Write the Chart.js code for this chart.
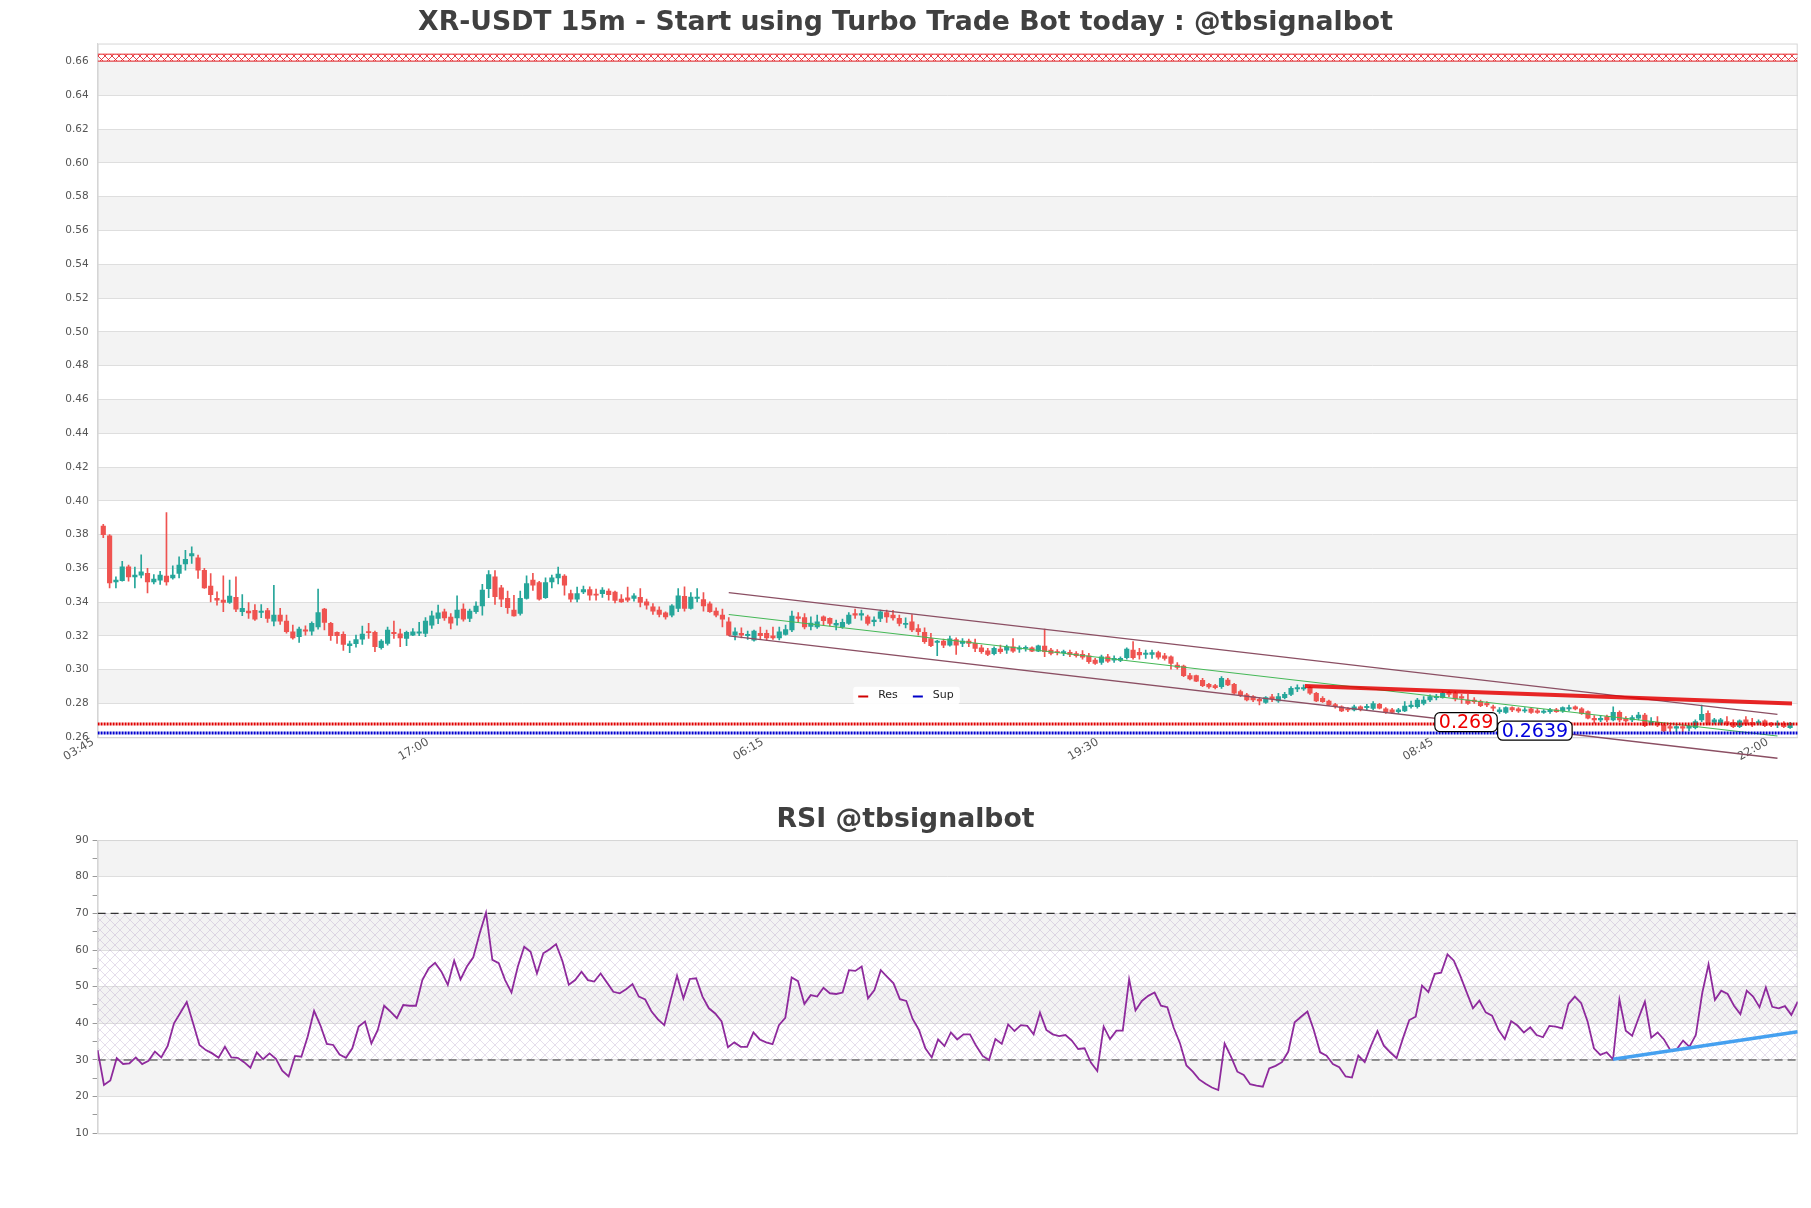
<!DOCTYPE html>
<html lang="en">
<head>
<meta charset="UTF-8">
<title>XR-USDT 15m</title>
<script src="https://cdn.jsdelivr.net/npm/chart.js"></script>
<style>
  body { margin: 0; background: #fff; }
  #wrap { position: relative; width: 1811px; height: 1208px; }
  #priceChart { position: absolute; left: 0; top: 0; }
  #rsiChart { position: absolute; left: 0; top: 790px; }
</style>
</head>
<body>
<div id="wrap">
  <canvas id="priceChart" width="1811" height="800"></canvas>
  <canvas id="rsiChart" width="1811" height="418"></canvas>
</div>
<script>
// ---- data ----
const xTickIdx = [0, 53, 106, 159, 212, 265];
const xTickLabels = ['03:45', '17:00', '06:15', '19:30', '08:45', '22:00'];
const priceTicks = [0.26, 0.28, 0.30, 0.32, 0.34, 0.36, 0.38, 0.40, 0.42, 0.44, 0.46, 0.48, 0.50, 0.52, 0.54, 0.56, 0.58, 0.60, 0.62, 0.64, 0.66];
const rsiTicks = [10, 15, 20, 25, 30, 35, 40, 45, 50, 55, 60, 65, 70, 75, 80, 85, 90];

const open = [
  .385, .3792, .352, .3527, .3609, .355, .356, .357, .352, .353,
  .3554, .3544, .357, .3627, .3674, .3662, .3589, .3495, .3422, .3412,
  .3398, .3428, .3343, .3347, .3351, .3339, .335, .3288, .3323, .3288,
  .3225, .3195, .3235, .3229, .3254, .3359, .3274, .3221, .3209, .3142,
  .3154, .3181, .3225, .3221, .313, .3156, .3221, .3213, .3185, .3205,
  .3217, .3215, .3264, .3304, .3343, .3311, .3307, .3359, .3304, .3343,
  .3378, .348, .355, .3485, .3422, .3353, .3333, .3422, .353, .3516,
  .3426, .352, .3544, .3554, .3451, .3418, .3461, .3475, .3447, .3451,
  .3465, .3459, .3418, .3426, .3422, .3428, .3402, .3372, .3353, .3337,
  .3323, .3363, .3435, .3363, .3422, .3416, .339, .3347, .3323, .3284,
  .3205, .3215, .3201, .3175, .3215, .3215, .3201, .3189, .3209, .3235,
  .3313, .3309, .3256, .3254, .3313, .3304, .3264, .3254, .3274, .3333,
  .3323, .3313, .3284, .3304, .3339, .3323, .3304, .3268, .3284, .3244,
  .3221, .3185, .3162, .317, .3146, .3179, .3156, .317, .3156, .313,
  .3112, .3095, .3122, .3116, .3136, .3122, .3126, .313, .311, .314,
  .3116, .3107, .3101, .3103, .3095, .3091, .3083, .3057, .3043, .3077,
  .3057, .3055, .3071, .3116, .3103, .3091, .3091, .3101, .3083, .3077,
  .3028, .3022, .2965, .2965, .2937, .2914, .2906, .29, .2939, .2914,
  .287, .2851, .2841, .2825, .2807, .2839, .2815, .2835, .2854, .2886,
  .2886, .2894, .2861, .2831, .2815, .2793, .2781, .2768, .2762, .2781,
  .2776, .2771, .2795, .2768, .2762, .2752, .2756, .2781, .2781, .2801,
  .2821, .2835, .2835, .2866, .2861, .2841, .2821, .2821, .2811, .2801,
  .2781, .2752, .2748, .2776, .2768, .2756, .2768, .2756, .2748, .2752,
  .2762, .2756, .2768, .2781, .2768, .2752, .2713, .2703, .2723, .2703,
  .2748, .2713, .2703, .2713, .2732, .2683, .2689, .2673, .2663, .2654,
  .2663, .2654, .2657, .2703, .2742, .2689, .2683, .2693, .2689, .2663,
  .2703, .2689, .2683, .2697, .2683, .2673, .2683, .2657
];
const high = [
  .3861, .38, .355, .3642, .3619, .3607, .368, .36, .3564, .3583,
  .393, .3615, .3668, .3707, .3727, .3678, .36, .3569, .3461, .3556,
  .353, .355, .3445, .3398, .3386, .3386, .3363, .35, .3363, .3323,
  .3264, .3252, .326, .3284, .3477, .3363, .328, .3225, .3225, .317,
  .3205, .3258, .3274, .3229, .3179, .3252, .3288, .3241, .3229, .3244,
  .328, .3308, .3347, .3382, .3359, .3333, .3437, .339, .3359, .3402,
  .3506, .3587, .3587, .35, .3465, .3441, .3465, .3556, .357, .3524,
  .3544, .356, .3607, .3564, .3471, .3489, .3495, .3491, .3477, .3487,
  .3479, .3465, .3445, .349, .3451, .348, .3418, .3392, .3372, .3343,
  .3386, .348, .3491, .3457, .348, .3457, .3402, .3367, .3359, .3308,
  .3248, .3248, .3229, .3235, .3252, .3235, .3252, .3252, .3264, .3347,
  .3339, .3333, .3313, .3323, .3319, .3307, .3294, .33, .3339, .3359,
  .3353, .3323, .3313, .3353, .3353, .3351, .3323, .3307, .3327, .3268,
  .3248, .3215, .3174, .3181, .3199, .3189, .3185, .3181, .3181, .3146,
  .3126, .3136, .3146, .3146, .3185, .3142, .3142, .3136, .3146, .3241,
  .3126, .312, .3116, .3116, .3107, .3114, .3097, .3067, .3087, .3091,
  .3083, .3077, .313, .3166, .3126, .3116, .3116, .311, .3097, .3083,
  .3043, .3028, .2978, .2969, .2949, .292, .2914, .2959, .2949, .292,
  .288, .286, .2847, .2835, .2841, .2854, .286, .2866, .29, .291,
  .291, .29, .2866, .2841, .2821, .2801, .2787, .2776, .2791, .2787,
  .2795, .2811, .2801, .2776, .2772, .2772, .2811, .2815, .2831, .2841,
  .2851, .2854, .287, .2874, .287, .2854, .2854, .2835, .2821, .2811,
  .2791, .2776, .2781, .2781, .2776, .2776, .2776, .2772, .2764, .2772,
  .2772, .2781, .2791, .2787, .2776, .2756, .2728, .2728, .2732, .2781,
  .2756, .2723, .2728, .2748, .2742, .2717, .2723, .2683, .2673, .2669,
  .2669, .2673, .2703, .2791, .2756, .2713, .2713, .2723, .2703, .2703,
  .2723, .2713, .2703, .2703, .2689, .2697, .2693, .2689
];
const low = [
  .3782, .3484, .3484, .3524, .3524, .3484, .3544, .3455, .3508, .3505,
  .35, .3536, .3544, .3589, .3629, .354, .3481, .3402, .3382, .3343,
  .3392, .3343, .332, .3304, .3292, .3308, .328, .326, .3268, .3217,
  .3181, .3162, .3205, .3205, .324, .3235, .3174, .3156, .3114, .3101,
  .3134, .315, .3185, .3107, .3122, .3146, .3185, .3136, .3142, .3201,
  .3201, .3195, .3244, .3272, .3292, .3241, .3264, .3288, .3284, .3333,
  .3323, .3426, .3386, .3373, .3333, .3317, .3323, .3418, .347, .3412,
  .3422, .3485, .3508, .3442, .3402, .3402, .3451, .3412, .3412, .3428,
  .3412, .3396, .3398, .3402, .3406, .3372, .3359, .3327, .3313, .33,
  .3313, .3343, .3347, .3359, .3402, .3347, .3339, .3313, .3254, .3201,
  .3176, .3189, .3179, .3169, .3181, .3176, .3179, .3176, .3205, .3225,
  .328, .3241, .3235, .3244, .3264, .326, .3235, .3245, .3268, .3304,
  .3294, .3264, .326, .3284, .328, .3294, .326, .3248, .3225, .3205,
  .3156, .3136, .3083, .313, .314, .3091, .3136, .3136, .3107, .3097,
  .3083, .3087, .3097, .3097, .3103, .3103, .311, .3107, .3107, .3077,
  .3087, .3087, .3083, .3077, .3075, .3063, .3038, .3032, .3032, .3043,
  .3043, .3047, .3063, .3063, .3063, .3067, .3067, .3063, .3057, .3004,
  .3004, .2959, .2939, .2929, .29, .289, .2886, .289, .2906, .2854,
  .284, .2815, .2811, .2791, .2801, .2811, .2807, .2827, .2846, .287,
  .2878, .2854, .2811, .2807, .2787, .2772, .2752, .2752, .2756, .2756,
  .2762, .2762, .2768, .2742, .274, .2742, .2752, .2772, .2772, .2791,
  .2811, .2821, .2831, .2841, .2815, .2801, .2795, .2801, .2781, .2781,
  .2756, .2742, .2742, .2752, .2748, .2748, .2742, .2742, .2742, .2742,
  .2748, .2748, .2756, .2762, .2736, .2709, .2683, .2693, .2693, .2697,
  .2693, .2689, .2693, .2703, .2663, .2673, .2663, .2634, .2634, .2634,
  .2634, .2638, .2649, .2693, .2673, .2677, .2673, .2669, .2657, .2657,
  .2669, .2663, .2673, .2663, .2663, .2657, .2657, .2653
];
const close = [
  .38, .3514, .353, .3609, .355, .356, .358, .352, .3536, .356,
  .352, .356, .3619, .3654, .3688, .3589, .3485, .3445, .3412, .3398,
  .3436, .3359, .3363, .3337, .33, .3347, .3304, .3323, .3288, .3225,
  .3189, .324, .3229, .3274, .3339, .328, .3201, .3201, .315, .3154,
  .3178, .3211, .3219, .3136, .317, .3235, .3213, .3189, .3221, .3225,
  .3225, .3288, .3319, .3337, .3307, .3276, .3353, .33, .3347, .3377,
  .3471, .3564, .3432, .3418, .3367, .3319, .3422, .351, .35, .3418,
  .3516, .3544, .3566, .35, .3418, .3451, .3475, .3441, .3441, .3471,
  .3444, .341, .3402, .3412, .3437, .3398, .3382, .3347, .3327, .3313,
  .3378, .3437, .3363, .343, .343, .3378, .3343, .3323, .33, .3205,
  .3225, .3205, .3209, .3229, .3201, .3189, .3189, .3225, .3238, .3317,
  .3304, .3254, .3276, .3284, .329, .3274, .3274, .328, .3323, .3323,
  .3333, .3274, .3294, .3343, .3313, .3307, .3274, .3274, .3235, .3225,
  .3166, .3142, .317, .3146, .3183, .3146, .317, .3156, .3126, .3107,
  .3091, .3126, .3107, .3136, .311, .3126, .313, .311, .3142, .3107,
  .3097, .3101, .3107, .3091, .3083, .3075, .3047, .3038, .3077, .3051,
  .3067, .3067, .3122, .3071, .3087, .3097, .3101, .3075, .3067, .3038,
  .3014, .2965, .2945, .2933, .2906, .2898, .2894, .2949, .291, .2861,
  .285, .2821, .2821, .2815, .2835, .2827, .2841, .2854, .289, .2894,
  .2894, .2861, .2815, .2811, .2791, .2781, .2756, .2762, .2781, .2768,
  .2781, .28, .2772, .2752, .2748, .2762, .2785, .2791, .2821, .2821,
  .2841, .2841, .2861, .2854, .2827, .2831, .2801, .2811, .2787, .2791,
  .2772, .2762, .2776, .2762, .2756, .2762, .2748, .2748, .2752, .2762,
  .2752, .2776, .2776, .2768, .2742, .2713, .2703, .2713, .2703, .2748,
  .2703, .2697, .2717, .2732, .2669, .2693, .2673, .2638, .2654, .2663,
  .2654, .2665, .2693, .2736, .2683, .2703, .2703, .2677, .2663, .2697,
  .2677, .2673, .2693, .2669, .2673, .2683, .2663, .2683
];
const rsi = [
  32.7, 23.2, 24.4, 30.5, 28.9, 29.1, 30.7, 28.9, 29.8, 32.3,
  30.7, 33.8, 40.0, 42.9, 45.8, 40.0, 34.1, 32.7, 31.8, 30.6,
  33.6, 30.7, 30.6, 29.4, 27.9, 32.1, 30.2, 31.8, 30.3, 27.1,
  25.5, 31.1, 30.9, 36.4, 43.4, 39.4, 34.4, 34.1, 31.5, 30.6,
  33.2, 39.1, 40.5, 34.5, 38.2, 44.8, 43.2, 41.4, 45.0, 44.8,
  44.8, 51.8, 55.0, 56.5, 54.1, 50.5, 57.1, 52.0, 55.5, 58.0,
  64.5, 70.2, 57.3, 56.4, 51.8, 48.4, 55.5, 60.9, 59.5, 53.6,
  59.1, 60.2, 61.6, 57.0, 50.5, 51.8, 54.1, 51.8, 51.4, 53.6,
  51.1, 48.6, 48.2, 49.3, 50.7, 47.3, 46.5, 43.2, 41.1, 39.5,
  46.4, 53.0, 46.8, 52.1, 52.3, 47.3, 44.1, 42.7, 40.5, 33.5,
  34.8, 33.6, 33.6, 37.5, 35.6, 34.8, 34.3, 39.5, 41.5, 52.5,
  51.5, 45.3, 47.7, 47.3, 49.7, 48.2, 48.0, 48.4, 54.5, 54.3,
  55.5, 46.8, 49.1, 54.5, 52.7, 50.9, 46.6, 46.1, 41.2, 38.2,
  33.2, 30.7, 35.6, 33.8, 37.5, 35.6, 37.0, 37.0, 33.8, 31.1,
  30.0, 35.7, 34.4, 39.7, 37.9, 39.5, 39.3, 37.0, 42.9, 38.2,
  37.0, 36.5, 36.8, 35.3, 33.0, 33.2, 29.3, 27.0, 39.1, 35.7,
  38.0, 38.0, 52.0, 43.5, 46.1, 47.5, 48.4, 44.8, 44.4, 38.8,
  34.5, 28.5, 26.8, 24.7, 23.5, 22.5, 21.8, 34.5, 30.9, 26.8,
  25.9, 23.4, 23.0, 22.7, 27.7, 28.4, 29.4, 32.3, 40.3, 41.8,
  43.2, 38.2, 32.1, 31.2, 28.9, 28.0, 25.5, 25.2, 31.2, 29.4,
  33.9, 37.9, 33.9, 32.1, 30.5, 35.9, 40.9, 41.8, 50.3, 48.5,
  53.5, 53.8, 58.8, 57.1, 53.0, 48.5, 44.1, 46.2, 43.0, 42.1,
  38.2, 35.7, 40.6, 39.4, 37.5, 38.9, 36.8, 36.2, 39.3, 39.1,
  38.6, 45.3, 47.3, 45.5, 40.5, 33.2, 31.4, 32.1, 30.2, 46.5,
  38.0, 36.6, 41.4, 45.9, 36.1, 37.5, 35.6, 32.7, 32.9, 35.3,
  33.6, 36.8, 48.2, 56.1, 46.4, 48.9, 48.0, 44.8, 42.5, 48.9,
  47.3, 44.4, 49.8, 44.5, 44.1, 44.7, 42.3, 45.9
];

// levels and trend lines, [index, value]
const topBand = [0.6603, 0.6644];
const resLevel = 0.2679;
const supLevel = 0.2626;
const channelX = [99, 265];
const channelUpper = [0.3457, 0.2736];
const channelMid = [0.3327, 0.2608];
const channelLower = [0.3201, 0.2476];
const resTrendX = [190.2, 267.3];
const resTrendY = [0.2904, 0.2800];
const rsiTrendX = [238, 267];
const rsiTrendY = [30.2, 37.7];
const priceLabels = [
  { x: 215.7, y: 0.269, text: '0.269', color: '#ee0000' },
  { x: 226.6, y: 0.2639, text: '0.2639', color: '#0000dd' }
];

// ---- helpers ----
const xMin = -0.9, xMax = 268.2;
const idx = open.map((_, i) => i);
const candleColor = idx.map(i => close[i] >= open[i] ? '#26a69a' : '#ef5350');
const pts = (xs, ys) => xs.map((x, i) => ({ x: x, y: ys[i] }));
const flat = v => [{ x: xMin, y: v }, { x: xMax, y: v }];
const tickFont = { family: 'DejaVu Sans', size: 10.5 };
const xTickFont = { family: 'DejaVu Sans', size: 11.5 };
const titleFont = { family: 'DejaVu Sans', size: 26.7, weight: 'bold' };
const gridColor = '#dedede';
const frameColor = '#d6d6d6';
const bandColor = '#f3f3f3';
const sidePad = 13.3;

function hatch(color, size, width, bg) {
  const c = document.createElement('canvas');
  c.width = size; c.height = size;
  const g = c.getContext('2d');
  if (bg) { g.fillStyle = bg; g.fillRect(0, 0, size, size); }
  g.strokeStyle = color; g.lineWidth = width;
  g.beginPath();
  g.moveTo(0, 0); g.lineTo(size, size);
  g.moveTo(size, 0); g.lineTo(0, size);
  g.stroke();
  return g.createPattern(c, 'repeat');
}

// alternate grey bands between tick pairs + a light frame
const bandsPlugin = {
  id: 'bands',
  beforeDraw(chart, args, o) {
    const { ctx, chartArea: a } = chart;
    const y = chart.scales.y;
    ctx.save();
    ctx.fillStyle = o.color;
    o.ranges.forEach(([lo, hi]) => {
      const y1 = y.getPixelForValue(hi), y2 = y.getPixelForValue(lo);
      ctx.fillRect(a.left, y1, a.right - a.left, y2 - y1);
    });
    ctx.restore();
  },
  beforeDatasetsDraw(chart) {
    const { ctx, chartArea: a } = chart;
    ctx.save();
    ctx.strokeStyle = frameColor;
    ctx.lineWidth = 1;
    ctx.strokeRect(a.left + 0.5, a.top + 0.5, a.right - a.left - 1, a.bottom - a.top);
    ctx.restore();
  }
};

const boxLegend = {
  id: 'boxLegend',
  afterDatasetsDraw(chart, args, o) {
    if (!o.items) return;
    const { ctx, chartArea: a } = chart;
    ctx.save();
    ctx.font = '11px "DejaVu Sans"';
    const widths = o.items.map(it => ctx.measureText(it.text).width);
    const w = 5 + widths.reduce((s, tw) => s + 20 + tw, 0) + 15 * (o.items.length - 1) + 6;
    const h = 17.6;
    const left = chart.width / 2 - w / 2 + 1;
    const top = a.bottom - 50.6;
    ctx.fillStyle = 'rgba(255,255,255,0.9)';
    ctx.beginPath();
    ctx.roundRect(left, top, w, h, 3);
    ctx.fill();
    let x = left + 5;
    const cy = top + h / 2 + 1;
    o.items.forEach((it, i) => {
      ctx.strokeStyle = it.color; ctx.lineWidth = 2;
      ctx.beginPath(); ctx.moveTo(x, cy); ctx.lineTo(x + 10, cy); ctx.stroke();
      ctx.fillStyle = '#222'; ctx.textBaseline = 'middle';
      ctx.fillText(it.text, x + 20, cy - 1);
      x += 20 + widths[i] + 15;
    });
    ctx.restore();
  }
};

const valueLabels = {
  id: 'valueLabels',
  afterDatasetsDraw(chart, args, o) {
    if (!o.labels) return;
    const { ctx } = chart;
    const xs = chart.scales.x, ys = chart.scales.y;
    ctx.save();
    ctx.font = '19px "DejaVu Sans"';
    o.labels.forEach(l => {
      const cx = xs.getPixelForValue(l.x), cy = ys.getPixelForValue(l.y);
      const tw = ctx.measureText(l.text).width;
      const w = tw + 8, h = 19;
      ctx.fillStyle = '#fff'; ctx.strokeStyle = '#000'; ctx.lineWidth = 1.2;
      ctx.beginPath(); ctx.roundRect(cx - w / 2, cy - h / 2, w, h, 5); ctx.fill(); ctx.stroke();
      ctx.fillStyle = l.color; ctx.textAlign = 'center'; ctx.textBaseline = 'middle';
      ctx.fillText(l.text, cx, cy + 1);
    });
    ctx.restore();
  }
};

// grey bands: every other interval of the tick list
const priceBands = [];
for (let i = 1; i + 1 < priceTicks.length; i += 2) priceBands.push([priceTicks[i], priceTicks[i + 1]]);
const rsiBands = [[20, 30], [40, 50], [60, 70], [80, 90]];

// ---- price chart ----
new Chart(document.getElementById('priceChart'), {
  type: 'bar',
  plugins: [bandsPlugin, boxLegend, valueLabels],
  data: {
    datasets: [
      { type: 'line', label: 'topHi', data: flat(topBand[1]), borderColor: '#e8262a', borderWidth: 1, pointRadius: 0, order: 1 },
      { type: 'line', label: 'topLo', data: flat(topBand[0]), borderColor: '#e8262a', borderWidth: 1, pointRadius: 0,
        fill: '-1', backgroundColor: hatch('rgba(227,34,43,0.85)', 7, 1), order: 1 },
      { label: 'wick', data: idx.map(i => ({ x: i, y: [low[i], high[i]] })), backgroundColor: candleColor,
        barThickness: 1, grouped: false, order: 6 },
      { label: 'body', data: idx.map(i => ({ x: i, y: [open[i], close[i]] })), backgroundColor: candleColor,
        barThickness: 4.5, minBarLength: 1.2, grouped: false, order: 5 },
      { type: 'line', label: 'upper', data: pts(channelX, channelUpper), borderColor: '#8b4f63', borderWidth: 1.3, pointRadius: 0, order: 4 },
      { type: 'line', label: 'mid', data: pts(channelX, channelMid), borderColor: '#45b857', borderWidth: 1.1, pointRadius: 0, order: 4 },
      { type: 'line', label: 'lower', data: pts(channelX, channelLower), borderColor: '#8b4f63', borderWidth: 1.3, pointRadius: 0, clip: false, order: 4 },
      { type: 'line', label: 'resTrend', data: pts(resTrendX, resTrendY), borderColor: 'rgba(228,0,0,0.85)', borderWidth: 4, pointRadius: 0, order: 3 },
      { type: 'line', label: 'Res', data: flat(resLevel), borderColor: '#e00000', borderWidth: 3, borderDash: [2, 1], pointRadius: 0, order: 2 },
      { type: 'line', label: 'Sup', data: flat(supLevel), borderColor: '#0000d0', borderWidth: 3, borderDash: [2, 1], pointRadius: 0, order: 2 }
    ]
  },
  options: {
    responsive: false, animation: false, devicePixelRatio: 1,
    layout: { padding: { left: sidePad, right: sidePad, top: 0, bottom: 0 } },
    plugins: {
      legend: { display: false },
      tooltip: { enabled: false },
      title: { display: true, text: 'XR-USDT 15m - Start using Turbo Trade Bot today : @tbsignalbot',
        color: '#404040', font: titleFont, padding: { top: 7, bottom: 4.5 } },
      bands: { ranges: priceBands, color: bandColor },
      boxLegend: { items: [{ text: 'Res', color: '#d00000' }, { text: 'Sup', color: '#0000c8' }] },
      valueLabels: { labels: priceLabels }
    },
    scales: {
      x: {
        type: 'linear', min: xMin, max: xMax, offset: false,
        grid: { display: false }, border: { color: frameColor },
        afterBuildTicks: s => { s.ticks = xTickIdx.map(v => ({ value: v })); },
        afterFit: s => { s.height = 62.7; },
        ticks: { autoSkip: false, minRotation: 30, maxRotation: 30, padding: -10, labelOffset: -10, color: '#555', font: xTickFont,
          callback: v => { const k = xTickIdx.indexOf(v); return k >= 0 ? xTickLabels[k] : ''; } }
      },
      y: {
        min: 0.26, max: 0.6707,
        afterBuildTicks: s => { s.ticks = priceTicks.map(v => ({ value: v })); },
        afterFit: s => { s.width = 97.6 - sidePad; },
        grid: { color: gridColor, drawTicks: false }, border: { color: frameColor },
        ticks: { padding: 9, color: '#555', font: tickFont, callback: v => v.toFixed(2) }
      }
    }
  }
});

// ---- RSI chart ----
new Chart(document.getElementById('rsiChart'), {
  type: 'line',
  plugins: [bandsPlugin],
  data: {
    datasets: [
      { label: 'ob', data: [{ x: 0, y: 70 }, { x: 267, y: 70 }], borderColor: '#333', borderDash: [8, 5], borderWidth: 1.2, pointRadius: 0, order: 3 },
      { label: 'os', data: [{ x: 0, y: 30 }, { x: 267, y: 30 }], borderColor: '#333', borderDash: [8, 5], borderWidth: 1.2, pointRadius: 0,
        fill: '-1', backgroundColor: hatch('rgba(160,135,185,0.28)', 10, 1), order: 3 },
      { label: 'RSI', data: rsi.map((v, i) => ({ x: i, y: v })), borderColor: '#8e2a9c', borderWidth: 1.8, pointRadius: 0, order: 1 },
      { label: 'rsiTrend', data: pts(rsiTrendX, rsiTrendY), borderColor: '#45a0f0', borderWidth: 3.5, pointRadius: 0, order: 0 }
    ]
  },
  options: {
    responsive: false, animation: false, devicePixelRatio: 1,
    layout: { padding: { left: sidePad, right: sidePad, top: 0, bottom: 0 } },
    plugins: {
      legend: { display: false },
      tooltip: { enabled: false },
      title: { display: true, text: 'RSI @tbsignalbot', color: '#404040', font: titleFont, padding: { top: 14, bottom: 4 } },
      bands: { ranges: rsiBands, color: bandColor }
    },
    scales: {
      x: {
        type: 'linear', min: 0, max: 267, offset: false,
        grid: { display: false }, border: { color: frameColor },
        ticks: { display: false },
        afterFit: s => { s.height = 74.7; }
      },
      y: {
        min: 10, max: 90,
        afterBuildTicks: s => { s.ticks = rsiTicks.map(v => ({ value: v })); },
        afterFit: s => { s.width = 97.6 - sidePad; },
        grid: { color: c => (c.tick && c.tick.value % 10 === 0) ? gridColor : 'rgba(0,0,0,0)',
          tickColor: '#999', tickLength: 5 },
        border: { color: frameColor },
        ticks: { padding: 4, color: '#555', font: tickFont, callback: v => v % 10 === 0 ? String(v) : '' }
      }
    }
  }
});
</script>
</body>
</html>
